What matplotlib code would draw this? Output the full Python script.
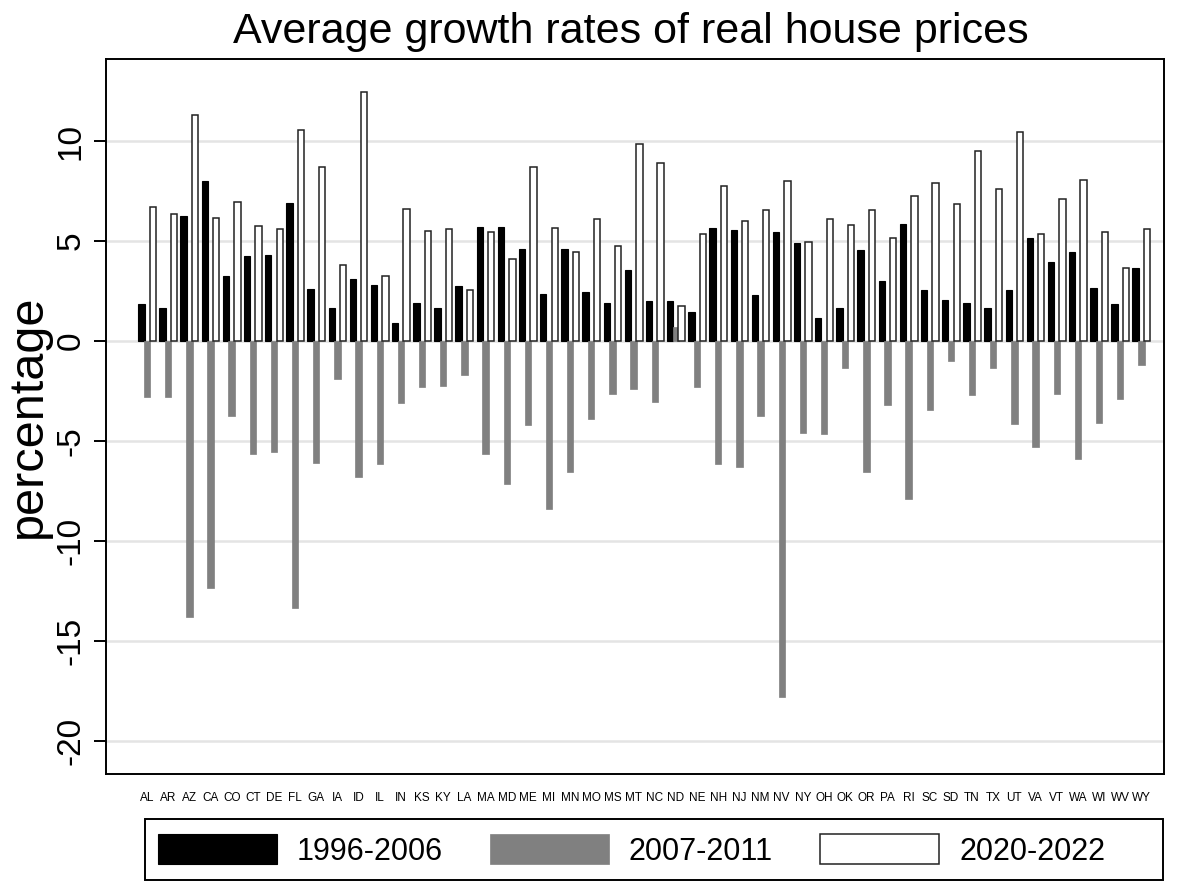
import matplotlib.pyplot as plt
from matplotlib.patches import Rectangle
import numpy as np

plt.rcParams['font.family'] = ['Liberation Sans', 'DejaVu Sans']

states = ["AL", "AR", "AZ", "CA", "CO", "CT", "DE", "FL", "GA", "IA", "ID", "IL",
          "IN", "KS", "KY", "LA", "MA", "MD", "ME", "MI", "MN", "MO", "MS", "MT",
          "NC", "ND", "NE", "NH", "NJ", "NM", "NV", "NY", "OH", "OK", "OR", "PA",
          "RI", "SC", "SD", "TN", "TX", "UT", "VA", "VT", "WA", "WI", "WV", "WY"]

# 1996-2006
g1 = [1.85, 1.65, 6.25, 8.02, 3.27, 4.25, 4.30, 6.88, 2.58, 1.63, 3.10, 2.82,
      0.92, 1.88, 1.67, 2.77, 5.72, 5.68, 4.58, 2.33, 4.58, 2.45, 1.92, 3.53,
      2.00, 2.00, 1.45, 5.65, 5.57, 2.28, 5.47, 4.90, 1.15, 1.67, 4.57, 2.98,
      5.85, 2.53, 2.03, 1.92, 1.67, 2.53, 5.15, 3.95, 4.45, 2.65, 1.87, 3.65]

# 2007-2011
g2 = [-2.82, -2.78, -13.78, -12.37, -3.77, -5.63, -5.53, -13.33, -6.08, -1.90, -6.78, -6.17,
      -3.12, -2.32, -2.27, -1.72, -5.65, -7.17, -4.20, -8.42, -6.55, -3.90, -2.67, -2.40,
      -3.07, 0.70, -2.30, -6.17, -6.32, -3.73, -17.80, -4.58, -4.67, -1.33, -6.57, -3.20,
      -7.92, -3.45, -0.98, -2.72, -1.35, -4.17, -5.32, -2.67, -5.90, -4.12, -2.88, -1.20]

# 2020-2022
g3 = [6.68, 6.33, 11.28, 6.13, 6.95, 5.77, 5.62, 10.53, 8.68, 3.78, 12.45, 3.27,
      6.60, 5.52, 5.60, 2.55, 5.43, 4.08, 8.68, 5.65, 4.43, 6.12, 4.75, 9.83,
      8.88, 1.75, 5.33, 7.77, 5.98, 6.57, 8.02, 4.97, 6.08, 5.80, 6.57, 5.17,
      7.25, 7.92, 6.87, 9.52, 7.62, 10.47, 5.35, 7.12, 8.03, 5.45, 3.65, 5.62]

periods = ["1996-2006", "2007-2011", "2020-2022"]

x = np.arange(len(states))
w = 0.30
off = 0.27

W, H = 1178, 882
fig = plt.figure(figsize=(W / 100, H / 100), dpi=100)
ax = fig.add_axes([106 / W, 1 - 774 / H, 1058 / W, 715 / H])

b1 = ax.bar(x - off, g1, w, color="black", edgecolor="black", linewidth=0.8)
b2 = ax.bar(x, g2, w, color="#808080", edgecolor="#808080", linewidth=0.5)
b3 = ax.bar(x + off, g3, w, color="white", edgecolor="#222222", linewidth=1.1)

ax.set_xlim(-1.94, len(states) - 1 + 1.07)
ax.set_ylim(-21.65, 14.1)
ax.set_yticks([-20, -15, -10, -5, 0, 5, 10])
ax.set_yticklabels(["-20", "-15", "-10", "-5", "0", "5", "10"],
                   rotation=90, va="center", fontsize=24)
ax.tick_params(axis="y", length=9, width=1.4, pad=5)
ax.grid(axis="y", color="#e4e4e4", linewidth=1.8)
ax.set_axisbelow(True)

ax.set_xticks(x)
ax.set_xticklabels(states, fontsize=8.5)
ax.tick_params(axis="x", length=0, pad=13)

for sp in ax.spines.values():
    sp.set_linewidth(1.4)

ax.set_ylabel("percentage", fontsize=35)
ax.yaxis.set_label_coords(-0.052, 0.5)

fig.text(631 / W, 1 - 43 / H, "Average growth rates of real house prices",
         ha="center", va="baseline", fontsize=31)

# legend box
fig.patches.append(Rectangle((145 / W, 1 - 880 / H), 1018 / W, 61 / H,
                             transform=fig.transFigure, fill=False,
                             edgecolor="black", linewidth=1.4))
fs = 22
leg = fig.legend([b1, b2, b3], periods, ncol=3, loc="center left",
                 bbox_to_anchor=(158 / W, 1 - 850.5 / H),
                 fontsize=fs, frameon=False,
                 handlelength=3.89, handleheight=1.14, handletextpad=0.65,
                 borderpad=0, borderaxespad=0, columnspacing=1.55)

fig.savefig("out.png", dpi=100)
